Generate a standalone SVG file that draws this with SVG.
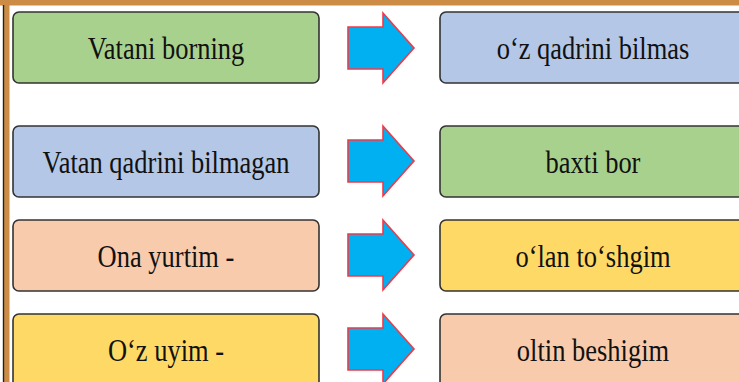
<svg xmlns="http://www.w3.org/2000/svg" width="739" height="382" viewBox="0 0 739 382">
<style>
.box{stroke:#333;stroke-width:1.6}
.g{fill:#a9d18e}.b{fill:#b4c7e7}.p{fill:#f8cbad}.y{fill:#ffd966}
.t{font-family:"Liberation Serif","Times New Roman",serif;font-size:26.5px;fill:#111;text-anchor:middle}
.arr{fill:#00b0f0;stroke:#f03a48;stroke-width:1.6;stroke-linejoin:miter}
</style>
<defs>
<path id="arrow" d="M0,0 H35 V-14 L66,21 L35,56 V42 H0 Z"/>
</defs>
<rect x="0" y="0" width="739" height="382" fill="#fff"/>
<rect x="0" y="0" width="739" height="5.5" fill="#cd8c46"/>
<rect x="4" y="5" width="5.5" height="377" fill="#cd8c46"/>
<rect x="2.8" y="5" width="1.4" height="377" fill="#222"/>
<g id="n1"><rect class="box g" x="13" y="12" width="306" height="71" rx="6"/><text class="t" transform="translate(166,58.5) scale(1,1.18)">Vatani borning</text></g>
<g id="n2"><rect class="box b" x="440" y="12" width="310" height="71" rx="6"/><text class="t" transform="translate(593,58.5) scale(1,1.18)">o‘z qadrini bilmas</text></g>
<g id="n3"><rect class="box b" x="13" y="126" width="306" height="71" rx="6"/><text class="t" transform="translate(166,172.5) scale(1,1.18)">Vatan qadrini bilmagan</text></g>
<g id="n4"><rect class="box g" x="440" y="126" width="310" height="71" rx="6"/><text class="t" transform="translate(593,172.5) scale(1,1.18)">baxti bor</text></g>
<g id="n5"><rect class="box p" x="13" y="220" width="306" height="71" rx="6"/><text class="t" transform="translate(166,266.5) scale(1,1.18)">Ona yurtim -</text></g>
<g id="n6"><rect class="box y" x="440" y="220" width="310" height="71" rx="6"/><text class="t" transform="translate(593,266.5) scale(1,1.18)">o‘lan to‘shgim</text></g>
<g id="n7"><rect class="box y" x="13" y="314" width="306" height="75" rx="6"/><text class="t" transform="translate(166,360.5) scale(1,1.18)">O‘z uyim -</text></g>
<g id="n8"><rect class="box p" x="440" y="314" width="310" height="75" rx="6"/><text class="t" transform="translate(593,360.5) scale(1,1.18)">oltin beshigim</text></g>
<g id="connectors">
<use href="#arrow" class="arr" transform="translate(348,27)"/>
<use href="#arrow" class="arr" transform="translate(348,140)"/>
<use href="#arrow" class="arr" transform="translate(348,234)"/>
<use href="#arrow" class="arr" transform="translate(348,328)"/>
</g>
</svg>
